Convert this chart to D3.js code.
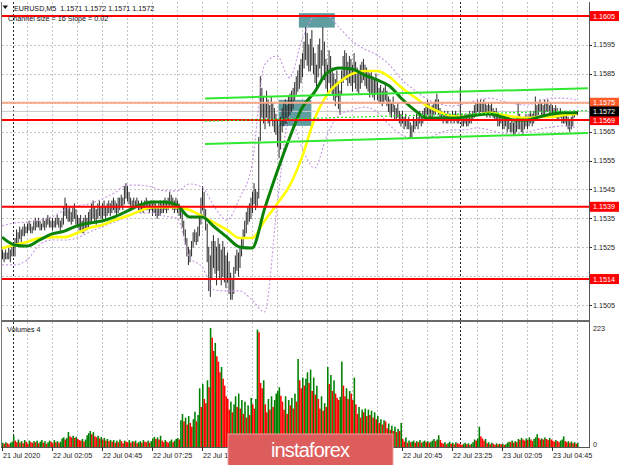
<!DOCTYPE html>
<html><head><meta charset="utf-8">
<script src="https://cdn.jsdelivr.net/npm/d3@7/dist/d3.min.js"></script>
<style>
html,body{margin:0;padding:0;background:#fff;}
svg{display:block;}
text{font-family:"Liberation Sans",Arial,sans-serif;}
</style></head><body>
<svg id="chart" width="620" height="465"></svg>
<script>
// ---------- DATA ----------
const symbolTitle = "EURUSD,M5  1.1571 1.1572 1.1571 1.1572";
const channelTitle = "Channel size = 16 Slope = 0.02";
const volumeTitle = "Volumes 4";
const timeLabels = ["21 Jul 2020","22 Jul 02:05","22 Jul 04:45","22 Jul 07:25","22 Jul 10:05","22 Jul 12:45","22 Jul 15:25","22 Jul 18:05","22 Jul 20:45","22 Jul 23:25","23 Jul 02:05","23 Jul 04:45"];
const timeLabelStep = 32;          // bars between time labels
const gridStep = 16;               // bars between vertical grid lines
const daySeparators = [7, 293];    // bar index of day breaks
const priceTicks = [1.1505,1.1515,1.1525,1.1535,1.1545,1.1555,1.1565,1.1575,1.1585,1.1595,1.1605];
const supportLevels = [1.1605, 1.1569, 1.1539, 1.1514];
const targetLevel = 1.1575;
const lastPrice = 1.1572;
const volumeMax = 223;

const highs = [1.1524,1.1523,1.1524,1.1523,1.1525,1.1524,1.1525,1.1526,1.1528,1.1531,
1.1530,1.1532,1.1531,1.1532,1.1533,1.1532,1.1533,1.1534,1.1533,1.1532,
1.1534,1.1535,1.1534,1.1535,1.1534,1.1533,1.1535,1.1534,1.1535,1.1536,
1.1535,1.1534,1.1535,1.1534,1.1535,1.1536,1.1535,1.1534,1.1535,1.1539,
1.1542,1.1540,1.1538,1.1539,1.1537,1.1539,1.1540,1.1538,1.1536,1.1535,
1.1536,1.1534,1.1535,1.1536,1.1535,1.1537,1.1538,1.1540,1.1541,1.1539,
1.1538,1.1540,1.1541,1.1539,1.1540,1.1541,1.1539,1.1540,1.1541,1.1540,
1.1541,1.1542,1.1541,1.1540,1.1542,1.1542,1.1543,1.1542,1.1546,1.1547,
1.1546,1.1544,1.1542,1.1541,1.1542,1.1541,1.1542,1.1541,1.1540,1.1541,
1.1540,1.1541,1.1542,1.1541,1.1540,1.1541,1.1540,1.1541,1.1540,1.1539,
1.1540,1.1541,1.1540,1.1541,1.1542,1.1541,1.1542,1.1544,1.1543,1.1542,
1.1541,1.1542,1.1541,1.1540,1.1539,1.1537,1.1534,1.1531,1.1528,1.1525,
1.1524,1.1527,1.1530,1.1531,1.1530,1.1532,1.1535,1.1542,1.1546,1.1544,
1.1538,1.1533,1.1525,1.1522,1.1527,1.1529,1.1527,1.1525,1.1528,1.1526,
1.1524,1.1527,1.1525,1.1522,1.1523,1.1520,1.1516,1.1514,1.1518,1.1522,
1.1524,1.1523,1.1525,1.1528,1.1531,1.1534,1.1537,1.1539,1.1540,1.1542,
1.1544,1.1547,1.1545,1.1544,1.1563,1.1584,1.1580,1.1577,1.1575,1.1579,
1.1576,1.1574,1.1577,1.1575,1.1573,1.1571,1.1569,1.1567,1.1570,1.1573,
1.1575,1.1576,1.1574,1.1577,1.1578,1.1579,1.1580,1.1582,1.1584,1.1586,
1.1588,1.1590,1.1592,1.1596,1.1601,1.1599,1.1595,1.1597,1.1600,1.1594,
1.1592,1.1588,1.1595,1.1597,1.1593,1.1601,1.1596,1.1590,1.1588,1.1593,
1.1591,1.1587,1.1585,1.1583,1.1586,1.1582,1.1579,1.1586,1.1591,1.1593,
1.1592,1.1589,1.1591,1.1590,1.1588,1.1592,1.1589,1.1587,1.1586,1.1588,
1.1589,1.1590,1.1588,1.1587,1.1586,1.1585,1.1586,1.1584,1.1583,1.1585,
1.1582,1.1580,1.1581,1.1579,1.1580,1.1582,1.1579,1.1577,1.1576,1.1575,
1.1577,1.1574,1.1573,1.1575,1.1572,1.1571,1.1572,1.1570,1.1571,1.1569,
1.1570,1.1568,1.1567,1.1570,1.1569,1.1571,1.1570,1.1572,1.1571,1.1572,
1.1573,1.1574,1.1576,1.1575,1.1573,1.1574,1.1575,1.1576,1.1578,1.1576,
1.1573,1.1572,1.1571,1.1572,1.1571,1.1572,1.1571,1.1570,1.1572,1.1571,
1.1572,1.1571,1.1570,1.1580,1.1571,1.1570,1.1571,1.1570,1.1571,1.1572,
1.1571,1.1572,1.1574,1.1575,1.1576,1.1575,1.1576,1.1575,1.1576,1.1575,
1.1574,1.1575,1.1574,1.1575,1.1573,1.1572,1.1573,1.1571,1.1570,1.1571,
1.1570,1.1569,1.1570,1.1569,1.1570,1.1568,1.1569,1.1568,1.1569,1.1570,
1.1575,1.1571,1.1570,1.1569,1.1570,1.1571,1.1570,1.1571,1.1572,1.1571,
1.1572,1.1577,1.1574,1.1575,1.1576,1.1575,1.1574,1.1576,1.1575,1.1576,
1.1574,1.1575,1.1574,1.1573,1.1574,1.1573,1.1572,1.1573,1.1572,1.1571,
1.1572,1.1571,1.1570,1.1569,1.1570,1.1571,1.1572,1.1572,1.1572];

const lows = [1.1521,1.1520,1.1521,1.1521,1.1521,1.1520,1.1522,1.1522,1.1522,1.1526,
1.1526,1.1528,1.1527,1.1529,1.1529,1.1530,1.1530,1.1531,1.1530,1.1530,
1.1531,1.1531,1.1532,1.1532,1.1531,1.1531,1.1532,1.1531,1.1532,1.1533,
1.1532,1.1532,1.1531,1.1532,1.1532,1.1533,1.1532,1.1531,1.1532,1.1533,
1.1536,1.1535,1.1534,1.1534,1.1533,1.1534,1.1535,1.1533,1.1532,1.1531,
1.1531,1.1530,1.1530,1.1531,1.1531,1.1532,1.1533,1.1534,1.1535,1.1534,
1.1533,1.1535,1.1536,1.1535,1.1535,1.1536,1.1535,1.1536,1.1537,1.1536,
1.1537,1.1538,1.1537,1.1536,1.1537,1.1538,1.1539,1.1538,1.1540,1.1542,
1.1541,1.1540,1.1539,1.1538,1.1539,1.1539,1.1539,1.1538,1.1537,1.1538,
1.1537,1.1538,1.1538,1.1538,1.1537,1.1538,1.1536,1.1537,1.1536,1.1535,
1.1536,1.1536,1.1537,1.1537,1.1538,1.1537,1.1538,1.1539,1.1539,1.1538,
1.1537,1.1538,1.1537,1.1536,1.1535,1.1532,1.1529,1.1526,1.1522,1.1519,
1.1520,1.1522,1.1525,1.1527,1.1526,1.1527,1.1529,1.1533,1.1538,1.1536,
1.1531,1.1520,1.1510,1.1508,1.1514,1.1518,1.1516,1.1512,1.1517,1.1514,
1.1512,1.1515,1.1513,1.1511,1.1513,1.1509,1.1507,1.1507,1.1509,1.1516,
1.1517,1.1515,1.1518,1.1522,1.1525,1.1528,1.1530,1.1533,1.1534,1.1535,
1.1537,1.1540,1.1538,1.1539,1.1542,1.1562,1.1570,1.1568,1.1566,1.1570,
1.1568,1.1567,1.1569,1.1567,1.1565,1.1564,1.1560,1.1556,1.1559,1.1565,
1.1567,1.1568,1.1567,1.1569,1.1571,1.1572,1.1573,1.1576,1.1578,1.1579,
1.1580,1.1582,1.1584,1.1587,1.1590,1.1588,1.1586,1.1586,1.1588,1.1585,
1.1582,1.1580,1.1584,1.1587,1.1583,1.1588,1.1583,1.1580,1.1578,1.1582,
1.1580,1.1578,1.1576,1.1574,1.1577,1.1573,1.1571,1.1578,1.1582,1.1584,
1.1583,1.1581,1.1582,1.1581,1.1579,1.1582,1.1580,1.1579,1.1578,1.1580,
1.1582,1.1583,1.1581,1.1580,1.1579,1.1577,1.1578,1.1577,1.1576,1.1578,
1.1576,1.1575,1.1575,1.1574,1.1575,1.1576,1.1574,1.1572,1.1571,1.1570,
1.1572,1.1569,1.1569,1.1570,1.1568,1.1567,1.1568,1.1566,1.1567,1.1566,
1.1566,1.1563,1.1563,1.1565,1.1566,1.1567,1.1566,1.1568,1.1567,1.1568,
1.1569,1.1570,1.1571,1.1570,1.1569,1.1570,1.1571,1.1571,1.1572,1.1571,
1.1569,1.1569,1.1568,1.1569,1.1568,1.1568,1.1569,1.1568,1.1569,1.1568,
1.1569,1.1568,1.1568,1.1569,1.1567,1.1567,1.1568,1.1567,1.1567,1.1568,
1.1568,1.1569,1.1570,1.1571,1.1572,1.1571,1.1572,1.1571,1.1572,1.1571,
1.1570,1.1571,1.1570,1.1571,1.1570,1.1569,1.1569,1.1567,1.1567,1.1568,
1.1566,1.1566,1.1567,1.1565,1.1566,1.1565,1.1565,1.1564,1.1564,1.1565,
1.1566,1.1566,1.1565,1.1564,1.1566,1.1567,1.1566,1.1567,1.1568,1.1567,
1.1568,1.1569,1.1570,1.1571,1.1572,1.1571,1.1570,1.1571,1.1572,1.1572,
1.1571,1.1571,1.1570,1.1570,1.1570,1.1569,1.1569,1.1570,1.1568,1.1568,
1.1568,1.1567,1.1566,1.1565,1.1566,1.1567,1.1570,1.1571,1.1571];

const volumes = [8,6,9,7,5,8,10,21,12,9,14,8,11,7,13,10,6,12,9,8,11,
9,12,7,10,13,8,11,6,9,12,10,7,13,9,11,8,10,16,18,14,17,28,
20,18,21,17,19,15,13,12,15,10,14,22,26,30,24,28,20,18,
21,16,19,14,17,12,15,11,13,10,13,8,12,9,14,11,7,12,10,9,13,8,11,10,12,7,9,11,8,13,10,9,12,8,11,
16,19,15,18,14,21,12,9,13,10,8,11,14,9,12,15,17,14,50,62,48,55,42,58,45,38,52,66,48,60,110,
75,118,90,82,125,112,223,205,180,195,170,160,140,150,128,115,95,90,70,85,65,80,95,75,100,72,88,
62,85,55,78,60,92,80,72,90,220,215,120,110,125,80,65,90,70,95,75,88,100,105,112,96,85,70,95,62,88,78,
92,72,100,85,165,125,110,130,115,128,140,120,145,105,130,98,115,90,72,95,68,82,75,150,118,135,105,125,100,
92,88,94,160,115,95,110,90,105,100,88,130,80,62,75,55,70,65,72,58,70,60,68,55,65,52,58,45,52,42,50,
48,35,44,32,40,30,38,28,34,30,45,15,10,18,8,12,9,10,12,8,11,9,13,8,10,12,9,11,8,10,12,15,11,14,22,13,
8,6,9,5,7,10,6,8,5,9,7,6,5,4,6,8,5,7,4,6,9,14,12,16,38,20,16,12,15,7,9,5,8,6,4,7,5,6,5,6,4,5,
8,10,9,12,8,11,9,15,13,17,14,12,16,13,18,14,11,15,18,24,17,14,16,14,18,15,13,17,14,12,10,13,11,9,12,14,20,11,
9,11,8,10,7,9,6,8];

// indicator lines sampled every maStep bars
const maStep = 8;
const maFast = [1.15285,1.15258,1.15254,1.15275,1.15296,1.15306,1.15324,1.15334,1.15341,1.15355,
1.15375,1.15396,1.15407,1.15407,1.15396,1.15355,1.15355,1.15320,1.15285,1.15251,
1.15247,1.15382,1.15510,1.15628,1.15732,1.15787,1.15853,1.15870,1.15867,1.15846,
1.15829,1.15808,1.15763,1.15725,1.15697,1.15697,1.15697,1.15701,1.15708,1.15711,
1.15701,1.15690,1.15690,1.15701,1.15711,1.15715,1.15715];
const maSlow = [1.15247,1.15258,1.15268,1.15282,1.15285,1.15285,1.15299,1.15317,1.15327,1.15344,
1.15358,1.15375,1.15389,1.15389,1.15389,1.15379,1.15358,1.15334,1.15310,1.15282,
1.15282,1.15341,1.15400,1.15462,1.15562,1.15694,1.15777,1.15822,1.15850,1.15860,
1.15860,1.15839,1.15801,1.15770,1.15739,1.15718,1.15704,1.15701,1.15708,1.15715,
1.15708,1.15701,1.15697,1.15701,1.15701,1.15708,1.15711];
const bandUpper = [1.15324,1.15334,1.15337,1.15344,1.15355,1.15379,1.15393,1.15400,1.15417,1.15438,
1.15465,1.15465,1.15458,1.15445,1.15445,1.15469,1.15458,1.15389,1.15344,1.15420,
1.15535,1.15881,1.15912,1.15836,1.15967,1.16047,1.16050,1.16009,1.15964,1.15936,
1.15915,1.15881,1.15829,1.15794,1.15763,1.15746,1.15739,1.15746,1.15759,1.15766,
1.15756,1.15746,1.15742,1.15756,1.15766,1.15766,1.15759];
const bandLower = [1.15189,1.15189,1.15206,1.15258,1.15275,1.15275,1.15282,1.15303,1.15320,1.15337,
1.15355,1.15369,1.15369,1.15358,1.15351,1.15216,1.15182,1.15102,1.15099,1.15099,
1.15068,1.15026,1.15389,1.15701,1.15594,1.15524,1.15638,1.15708,1.15725,1.15735,
1.15718,1.15673,1.15638,1.15628,1.15628,1.15645,1.15656,1.15656,1.15663,1.15656,
1.15645,1.15642,1.15649,1.15659,1.15666,1.15670,1.15663];

// regression channel (start bar, end bar, prices)
const channelBars = [130, 375];
const channelUpper = [1.15765, 1.15800];
const channelMid = [1.15686, 1.15723];
const channelLower = [1.15607, 1.15645];

// highlighted zones [startBar, endBar, high, low]
const zoneStart = [190, 177];
const zoneEnd = [213, 198];
const zoneHigh = [1.1606, 1.1576];
const zoneLow = [1.1601, 1.1567];

// ---------- DRAW ----------
const svg = d3.select("#chart");
const barW = 1.5625;
const L = 2, R = 589, PT = 2, PB = 320, VT = 322, VB = 447;
const x = d3.scaleLinear().domain([0, 375]).range([L, L + 375 * barW]);
const y = d3.scaleLinear().domain([1.1500, 1.1610]).range([319.5, 1.6]);
const yv = d3.scaleLinear().domain([0, volumeMax]).range([VB, 328]);
const fmt = d3.format(".4f");
const LOGO = {x0: 228, x1: 393, y0: 434};

svg.append("rect").attr("width", 620).attr("height", 465).attr("fill", "#fff");

const defs = svg.append("defs");
defs.append("clipPath").attr("id", "cp").append("rect")
  .attr("x", L).attr("y", PT).attr("width", R - L).attr("height", PB - PT);
defs.append("clipPath").attr("id", "cv").append("rect")
  .attr("x", L).attr("y", VT).attr("width", R - L).attr("height", VB - VT);

const gp = svg.append("g").attr("clip-path", "url(#cp)");
const gv = svg.append("g").attr("clip-path", "url(#cv)");

// grid
gp.selectAll("line.hg").data(priceTicks).join("line")
  .attr("x1", L).attr("x2", R)
  .attr("y1", d => Math.round(y(d)) + 0.5).attr("y2", d => Math.round(y(d)) + 0.5)
  .attr("stroke", "#c4c4c4").attr("stroke-dasharray", "2,2");
const gridIdx = d3.range(gridStep, 375, gridStep);
[gp, gv].forEach((g, k) => {
  g.selectAll("line.vg").data(gridIdx).join("line")
    .attr("x1", d => Math.round(x(d)) + 0.5).attr("x2", d => Math.round(x(d)) + 0.5)
    .attr("y1", k ? VT : PT).attr("y2", k ? VB : PB)
    .attr("stroke", "#c4c4c4").attr("stroke-dasharray", "2,2");
  g.selectAll("line.sep").data(daySeparators).join("line")
    .attr("x1", d => Math.round(x(d)) + 0.5).attr("x2", d => Math.round(x(d)) + 0.5)
    .attr("y1", k ? VT : PT).attr("y2", k ? VB : PB)
    .attr("stroke", "#222").attr("stroke-dasharray", "2,2");
});

// zones
gp.selectAll("rect.zone").data(zoneStart).join("rect")
  .attr("x", (d, i) => x(d)).attr("width", (d, i) => x(zoneEnd[i]) - x(d))
  .attr("y", (d, i) => y(zoneHigh[i])).attr("height", (d, i) => y(zoneLow[i]) - y(zoneHigh[i]))
  .attr("fill", "#5f9ea0");

// bid line
gp.append("line").attr("x1", L).attr("x2", R)
  .attr("y1", y(lastPrice)).attr("y2", y(lastPrice)).attr("stroke", "#c8c8c8").attr("stroke-width", 1);

// bars
gp.selectAll("line.bar").data(highs).join("line")
  .attr("x1", (d, i) => x(i) + 0.5).attr("x2", (d, i) => x(i) + 0.5)
  .attr("y1", d => y(d) - 0.5).attr("y2", (d, i) => y(lows[i]) + 0.5)
  .attr("stroke", "#2a2a2a").attr("stroke-width", 1);

// bands and moving averages
const sampleLine = d3.line().x((d, i) => x(i * maStep)).y(d => y(d)).curve(d3.curveMonotoneX);
[bandUpper, bandLower].forEach(arr => {
  gp.append("path").attr("d", sampleLine(arr)).attr("fill", "none")
    .attr("stroke", "#c597e3").attr("stroke-width", 1.1).attr("stroke-dasharray", "2,2");
});
gp.append("path").attr("d", sampleLine(maSlow)).attr("fill", "none")
  .attr("stroke", "#ffff00").attr("stroke-width", 2.6);
gp.append("path").attr("d", sampleLine(maFast)).attr("fill", "none")
  .attr("stroke", "#0a820a").attr("stroke-width", 3);

// levels
gp.selectAll("line.lvl").data(supportLevels).join("line")
  .attr("x1", L).attr("x2", R).attr("y1", d => y(d)).attr("y2", d => y(d))
  .attr("stroke", "#ff0000").attr("stroke-width", 2);
gp.append("line").attr("x1", L).attr("x2", R)
  .attr("y1", y(targetLevel)).attr("y2", y(targetLevel))
  .attr("stroke", "#f8a98a").attr("stroke-width", 2);

// channel
[[channelUpper, null, 2], [channelLower, null, 2], [channelMid, "2,2", 1.2]].forEach(([c, dash, w]) => {
  gp.append("line")
    .attr("x1", x(channelBars[0])).attr("x2", x(channelBars[1]))
    .attr("y1", y(c[0])).attr("y2", y(c[1]))
    .attr("stroke", "#30e830").attr("stroke-width", w)
    .attr("stroke-dasharray", dash);
});

// volumes
gv.selectAll("rect.vol").data(volumes).join("rect")
  .attr("x", (d, i) => x(i)).attr("width", barW)
  .attr("y", d => yv(d)).attr("height", d => VB - yv(d))
  .attr("fill", (d, i) => (i === 0 || d > volumes[i - 1]) ? "#008000" : "#ff0000");

// frame
svg.append("line").attr("x1", L - 0.5).attr("x2", L - 0.5).attr("y1", PT).attr("y2", VB)
  .attr("stroke", "#7a7a7a").attr("stroke-width", 1);
svg.append("rect").attr("x", L - 1).attr("y", PB).attr("width", R - L + 1).attr("height", 2).attr("fill", "#6a6a6a");
svg.append("line").attr("x1", R + 0.5).attr("x2", R + 0.5).attr("y1", PT).attr("y2", VB + 1)
  .attr("stroke", "#555").attr("stroke-width", 1);
svg.append("line").attr("x1", L - 1).attr("x2", R + 1).attr("y1", VB + 0.5).attr("y2", VB + 0.5)
  .attr("stroke", "#555").attr("stroke-width", 1);

// price axis (tick labels hidden behind level tags are skipped)
const tagged = supportLevels.concat([targetLevel, lastPrice]);
const visibleTicks = priceTicks.filter(t => !tagged.some(p => Math.abs(y(p) - y(t)) < 9));
const ga = svg.append("g");
ga.selectAll("line.tk").data(priceTicks).join("line")
  .attr("x1", R).attr("x2", R + 3).attr("y1", d => Math.round(y(d)) + 0.5).attr("y2", d => Math.round(y(d)) + 0.5)
  .attr("stroke", "#333");
ga.selectAll("text.tk").data(visibleTicks).join("text")
  .attr("x", R + 4).attr("y", d => y(d)).attr("dy", "0.35em")
  .attr("font-size", 7.2).attr("fill", "#222").text(d => fmt(d));
// volume axis
ga.append("text").attr("x", R + 4).attr("y", yv(volumeMax)).attr("dy", "0.35em").attr("font-size", 7.2).attr("fill", "#222").text(volumeMax);
ga.append("text").attr("x", R + 4).attr("y", yv(0) - 3).attr("dy", "0.35em").attr("font-size", 7.2).attr("fill", "#222").text(0);

// level labels
function tag(price, bg) {
  ga.append("rect").attr("x", R + 1).attr("y", y(price) - 5).attr("width", 29).attr("height", 10).attr("fill", bg);
  ga.append("text").attr("x", R + 4).attr("y", y(price)).attr("dy", "0.35em")
    .attr("font-size", 7.2).attr("fill", "#fff").text(fmt(price));
}
supportLevels.forEach(p => tag(p, "#ff0000"));
tag(targetLevel, "#ff5a28");
tag(lastPrice, "#000");

// time axis (labels fully hidden behind the logo are skipped)
const tIdx = timeLabels.map((d, i) => i * timeLabelStep);
ga.selectAll("line.tt").data(tIdx).join("line")
  .attr("x1", d => Math.round(x(d)) + 0.5).attr("x2", d => Math.round(x(d)) + 0.5)
  .attr("y1", VB).attr("y2", VB + 4).attr("stroke", "#333");
const shownTimes = timeLabels.map((t, i) => ({t, i})).filter(o => !(x(tIdx[o.i]) > LOGO.x0 && x(tIdx[o.i]) < LOGO.x1));
ga.selectAll("text.tt").data(shownTimes).join("text")
  .attr("x", o => x(tIdx[o.i]) + 1).attr("y", 458)
  .attr("font-size", 7.2).attr("fill", "#222").text(o => o.t);

// header texts
svg.append("path").attr("d", "M2.5,5.5 L8,5.5 L5.25,9 Z").attr("fill", "#111");
svg.append("text").attr("x", 14).attr("y", 11).attr("font-size", 7.2).attr("fill", "#111")
  .style("white-space", "pre").text(symbolTitle);
svg.append("text").attr("x", 8).attr("y", 21).attr("font-size", 7.2).attr("fill", "#111").text(channelTitle);
svg.append("text").attr("x", 7).attr("y", 332).attr("font-size", 7.2).attr("fill", "#111").text(volumeTitle);

// logo
const logo = svg.append("g");
logo.append("rect").attr("x", LOGO.x0).attr("y", LOGO.y0).attr("width", LOGO.x1 - LOGO.x0).attr("height", 33)
  .attr("fill", "#dd5c5c").attr("stroke", "#eea0a0").attr("stroke-width", 1);
logo.append("text").attr("x", 271).attr("y", 457).attr("font-size", 20)
  .attr("font-family", "Lato, 'Open Sans', sans-serif").attr("font-weight", 300)
  .attr("fill", "#fff").attr("textLength", 79).text("instaforex");
</script>
</body></html>
